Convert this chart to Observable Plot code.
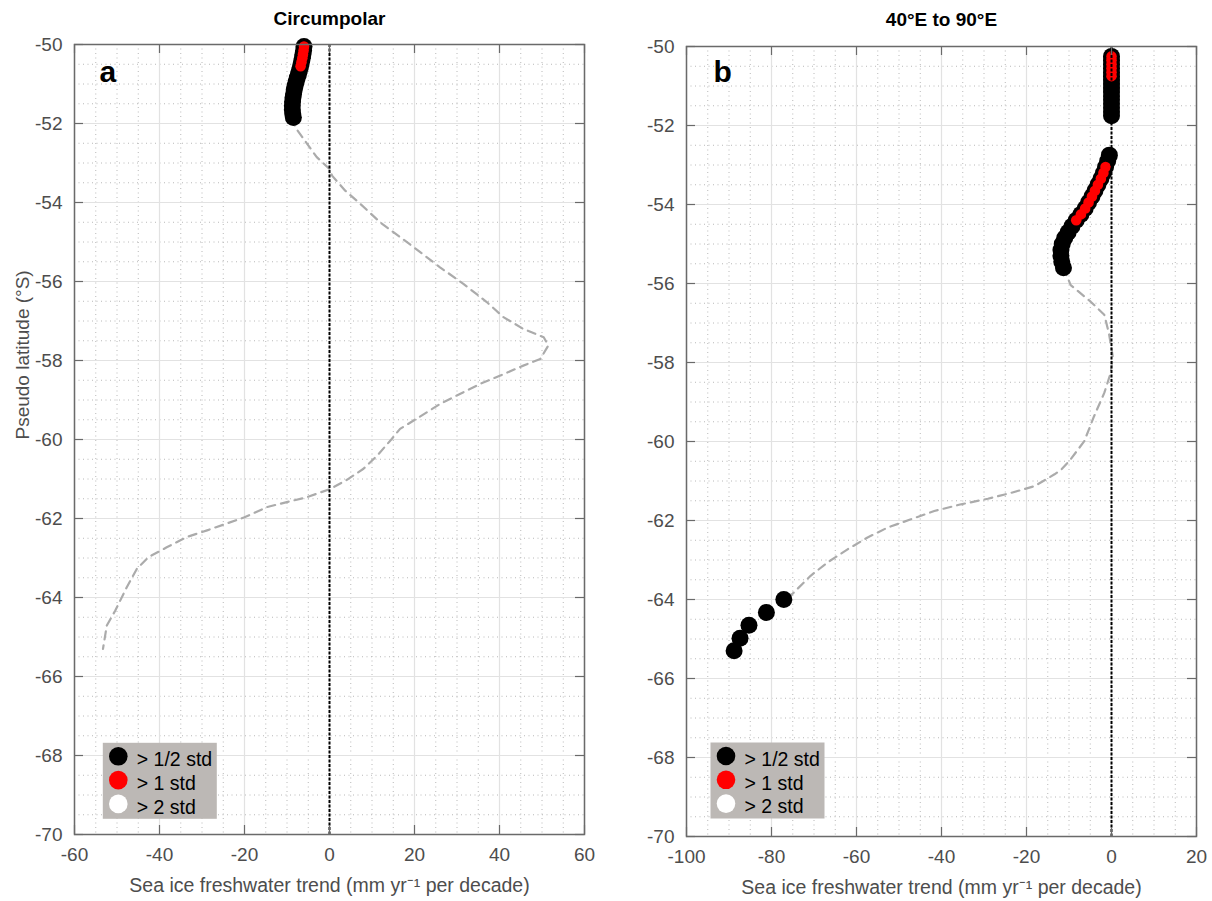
<!DOCTYPE html>
<html><head><meta charset="utf-8">
<script src="https://cdn.jsdelivr.net/npm/d3@7"></script>
<script src="https://cdn.jsdelivr.net/npm/@observablehq/plot@0.6"></script>
<style>
body{margin:0;background:#fff;}
#fig{position:relative;width:1212px;height:901px;overflow:hidden;}
#fig > svg{position:absolute;top:0;}
</style></head><body><div id="fig"></div>
<script>
// ---------- data ----------
const legendLabels = ["> 1/2 std", "> 1 std", "> 2 std"];
const legendColors = ["#000000", "#ff0000", "#ffffff"];
const yTicks = [-70, -68, -66, -64, -62, -60, -58, -56, -54, -52, -50];

// Panel a: Circumpolar
const aTitle = "Circumpolar";
const aXTicks = [-60, -40, -20, 0, 20, 40, 60];
const aLineLat = [-51.85, -52.09, -52.51, -52.85, -53.15, -53.32, -53.70, -54.03, -54.50, -55.13, -55.64, -56.06, -56.52, -56.90, -57.20, -57.41, -57.62, -57.96, -58.13, -58.38, -58.59, -58.84, -59.10, -59.52, -59.73, -59.98, -60.41, -60.74, -61.02, -61.25, -61.46, -61.71, -61.97, -62.30, -62.47, -62.73, -62.98, -63.27, -63.74, -64.33, -64.71, -65.30];
const aLineTrend = [-8.5, -8.1, -5.3, -3.0, 0.0, 0.6, 3.7, 7.2, 11.9, 19.8, 26.0, 31.5, 37.0, 40.9, 45.6, 50.4, 51.5, 49.6, 45.6, 40.2, 35.5, 30.8, 26.0, 19.8, 16.6, 14.7, 11.2, 8.0, 4.1, 0.2, -5.3, -14.7, -20.0, -28.8, -33.6, -38.3, -42.6, -45.3, -47.7, -50.4, -52.4, -53.3];
const aHalfLat = [-50.05, -50.15, -50.25, -50.35, -50.45, -50.55, -50.65, -50.75, -50.85, -50.95, -51.05, -51.15, -51.25, -51.35, -51.45, -51.55, -51.65, -51.75, -51.85];
const aHalfTrend = [-6.0, -6.1, -6.25, -6.4, -6.6, -6.8, -7.05, -7.3, -7.6, -7.85, -8.1, -8.3, -8.45, -8.6, -8.7, -8.75, -8.75, -8.65, -8.5];
const aOneLat = [-50.05, -50.15, -50.25, -50.35, -50.45, -50.55];
const aOneTrend = [-6.0, -6.1, -6.25, -6.4, -6.6, -6.8];

// Panel b: 40°E to 90°E
const bTitle = "40°E to 90°E";
const bXTicks = [-100, -80, -60, -40, -20, 0, 20];
const bLineLat = [-55.6, -56.04, -56.46, -56.79, -57.26, -57.85, -58.27, -58.77, -59.36, -59.99, -60.45, -60.71, -60.83, -61.13, -61.30, -61.45, -61.59, -61.76, -61.97, -62.18, -62.43, -62.73, -63.06, -63.40, -63.86, -64.0];
const bLineTrend = [-11.3, -9.6, -4.9, -1.7, -0.6, 0.3, -0.2, -1.7, -4.1, -6.4, -9.6, -11.8, -13.4, -18.1, -23.6, -29.1, -35.4, -41.7, -47.2, -52.7, -57.4, -62.1, -66.8, -70.8, -75.1, -77.1];
const bHalfLat = [-50.25, -50.35, -50.45, -50.55, -50.65, -50.75, -50.85, -50.95, -51.05, -51.15, -51.25, -51.35, -51.45, -51.55, -51.65, -51.75,
  -52.75, -52.9, -53.05, -53.2, -53.35, -53.5, -53.65, -53.8, -53.95, -54.1, -54.25, -54.4, -54.55, -54.7, -54.85, -55.0, -55.15, -55.3, -55.45, -55.6,
  -64.0, -64.33, -64.65, -64.98, -65.3];
const bHalfTrend = [0, 0, 0, 0, 0, 0, 0, 0, 0, 0, 0, 0, 0, 0, 0, 0,
  -0.5, -0.9, -1.4, -1.9, -2.5, -3.2, -3.9, -4.6, -5.4, -6.2, -7.2, -8.3, -9.3, -10.2, -11.0, -11.6, -11.9, -11.9, -11.7, -11.3,
  -77.1, -81.2, -85.3, -87.4, -88.8];
const bOneLat = [-50.25, -50.35, -50.45, -50.55, -50.65, -50.75,
  -53.05, -53.2, -53.35, -53.5, -53.65, -53.8, -53.95, -54.1, -54.25, -54.4];
const bOneTrend = [0, 0, 0, 0, 0, 0,
  -1.4, -1.9, -2.5, -3.2, -3.9, -4.6, -5.4, -6.2, -7.2, -8.3];

const xLabel = "Sea ice freshwater trend (mm yr\u207B\u00B9 per decade)";
const yLabel = "Pseudo latitude (°S)";

// ---------- drawing ----------
const toRows = (lat, val) => lat.map((y, i) => ({lat: y, trend: val[i]}));
const FONT = "'Liberation Sans', Arial, Helvetica, sans-serif";
const W = 606, H = 901;

function panel(o) {
  const pw = W - o.ml - o.mr, ph = H - o.mt - o.mb;
  const xMinor = d3.range(o.xDomain[0], o.xDomain[1] + 0.001, 5);
  const yMinor = d3.range(-70, -49.99, 0.5);
  const tl = 9;
  const leg = [];
  legendLabels.forEach((lab, i) => {
    leg.push(Plot.dot([lab], {frameAnchor: "top-left", dx: o.lgx + 15.5, dy: o.lgy + 13.5 + i * 23.8, r: 9.3, fill: legendColors[i]}));
    leg.push(Plot.text([lab], {frameAnchor: "top-left", dx: o.lgx + 34, dy: o.lgy + 9.5 + i * 23.8, textAnchor: "start", fontSize: 19.5, fill: "#000"}));
  });
  const marks = [
    Plot.gridX(xMinor, {stroke: "#b8b8b8", strokeOpacity: 1, strokeDasharray: "1,3.5"}),
    Plot.gridY(yMinor, {stroke: "#b8b8b8", strokeOpacity: 1, strokeDasharray: "1,3.5"}),
    Plot.gridX(o.xTicks, {stroke: "#e2e2e2", strokeOpacity: 1, strokeWidth: 1.2}),
    Plot.gridY(yTicks, {stroke: "#e2e2e2", strokeOpacity: 1, strokeWidth: 1.2}),
    Plot.line(toRows(o.lineLat, o.lineTrend), {x: "trend", y: "lat", stroke: "#ababab", strokeWidth: 2.2, strokeDasharray: "8,6"}),
    Plot.dot(toRows(o.halfLat, o.halfTrend), {x: "trend", y: "lat", r: 8.5, fill: "#000"}),
    Plot.dot(toRows(o.oneLat, o.oneTrend), {x: "trend", y: "lat", r: 5.3, fill: "#ff0000"}),
    Plot.ruleX([0], {stroke: "#000", strokeWidth: 2, strokeDasharray: "3,1.5"}),
    Plot.frame({fill: "#bcb8b5", insetLeft: o.lgx, insetTop: o.lgy, insetRight: pw - o.lgx - 114, insetBottom: ph - o.lgy - 76}),
    ...leg,
    Plot.frame({stroke: "#6a6a6a", strokeWidth: 1.5}),
    Plot.tickX(o.xTicks, {stroke: "#6a6a6a", strokeWidth: 1.2, insetTop: ph - tl}),
    Plot.tickX(o.xTicks, {stroke: "#6a6a6a", strokeWidth: 1.2, insetBottom: ph - tl}),
    Plot.tickY(yTicks, {stroke: "#6a6a6a", strokeWidth: 1.2, insetRight: pw - tl}),
    Plot.tickY(yTicks, {stroke: "#6a6a6a", strokeWidth: 1.2, insetLeft: pw - tl}),
    Plot.axisX(o.xTicks, {anchor: "bottom", tickSize: 0, tickPadding: 13, tickFormat: d => String(d), label: null, fontSize: 19, fill: "#4d4d4d"}),
    Plot.axisY(yTicks, {anchor: "left", tickSize: 0, tickPadding: 12, tickFormat: d => String(d), label: null, fontSize: 19, fill: "#4d4d4d"}),
    Plot.text([xLabel], {frameAnchor: "bottom", lineAnchor: "middle", dy: 51, fontSize: 19.5, fill: "#4d4d4d"}),
    Plot.text([o.title], {frameAnchor: "top", lineAnchor: "middle", dy: o.titleDy, fontSize: 19, fontWeight: "bold", fill: "#000"}),
    Plot.text([o.letter], {frameAnchor: "top-left", lineAnchor: "middle", dx: o.letterDx, dy: o.letterDy, fontSize: 30, fontWeight: "bold", fill: "#000"})
  ];
  if (o.showYLabel) marks.push(Plot.text([yLabel], {frameAnchor: "left", dx: -52, rotate: -90, fontSize: 19, fill: "#4d4d4d"}));
  const svg = Plot.plot({
    width: W, height: H,
    marginLeft: o.ml, marginRight: o.mr, marginTop: o.mt, marginBottom: o.mb,
    x: {domain: o.xDomain},
    y: {domain: [-70, -50]},
    style: {fontFamily: FONT, fontSize: "19px", color: "#4d4d4d", background: "transparent", overflow: "visible"},
    marks
  });
  svg.style.left = o.left + "px";
  return svg;
}

const fig = document.getElementById("fig");
fig.appendChild(panel({
  left: 0, ml: 74, mr: 22, mt: 44, mb: 67,
  xDomain: [-60, 60], xTicks: aXTicks, title: aTitle, titleDy: -26, letter: "a", letterDx: 25, letterDy: 28,
  lineLat: aLineLat, lineTrend: aLineTrend, halfLat: aHalfLat, halfTrend: aHalfTrend, oneLat: aOneLat, oneTrend: aOneTrend,
  lgx: 28.3, lgy: 698.3, showYLabel: true
}));
fig.appendChild(panel({
  left: 606, ml: 80, mr: 16, mt: 46, mb: 65,
  xDomain: [-100, 20], xTicks: bXTicks, title: bTitle, titleDy: -27, letter: "b", letterDx: 27, letterDy: 26,
  lineLat: bLineLat, lineTrend: bLineTrend, halfLat: bHalfLat, halfTrend: bHalfTrend, oneLat: bOneLat, oneTrend: bOneTrend,
  lgx: 24, lgy: 696, showYLabel: false
}));
</script></body></html>
